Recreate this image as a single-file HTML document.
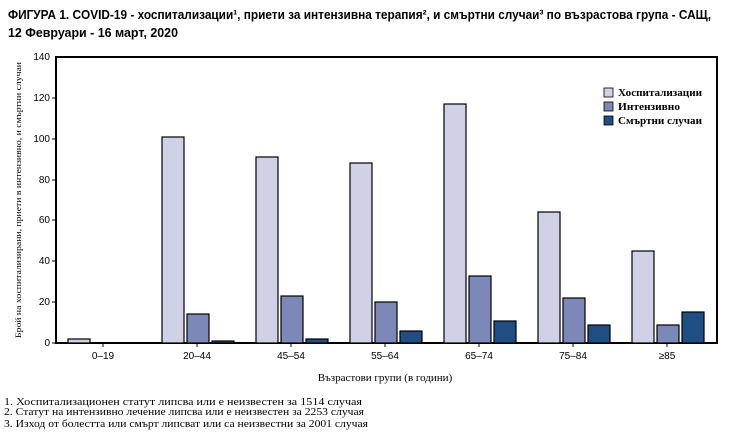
<!DOCTYPE html>
<html><head><meta charset="utf-8"><style>body{margin:0;background:#fff}svg{display:block}</style></head><body>
<svg width="730" height="442" xmlns="http://www.w3.org/2000/svg">
<g font-family="Liberation Sans, sans-serif" font-size="13" fill="#000" font-weight="bold">
<text x="8" y="19" textLength="703" lengthAdjust="spacingAndGlyphs">ФИГУРА  1. COVID-19 - хоспитализации¹, приети за интензивна терапия², и смъртни случаи³ по възрастова група - САЩ,</text>
<text x="8" y="37" textLength="170" lengthAdjust="spacingAndGlyphs">12 Февруари - 16 март, 2020</text>
</g>
<rect x="56" y="57" width="661" height="286" fill="none" stroke="#000" stroke-width="2"/>
<g font-family="Liberation Sans, sans-serif" font-size="10" text-anchor="end">
<text x="50" y="346">0</text><text x="50" y="305">20</text><text x="50" y="264">40</text><text x="50" y="223">60</text><text x="50" y="183">80</text><text x="50" y="142">100</text><text x="50" y="101">120</text><text x="50" y="60">140</text>
</g>
<g stroke="#000" stroke-width="1">
<line x1="52" y1="343" x2="56" y2="343"/><line x1="52" y1="302" x2="56" y2="302"/><line x1="52" y1="261" x2="56" y2="261"/><line x1="52" y1="220" x2="56" y2="220"/><line x1="52" y1="180" x2="56" y2="180"/><line x1="52" y1="139" x2="56" y2="139"/><line x1="52" y1="98" x2="56" y2="98"/>
<line x1="103" y1="343" x2="103" y2="347"/><line x1="197" y1="343" x2="197" y2="347"/><line x1="291" y1="343" x2="291" y2="347"/><line x1="385" y1="343" x2="385" y2="347"/><line x1="479" y1="343" x2="479" y2="347"/><line x1="573" y1="343" x2="573" y2="347"/><line x1="667" y1="343" x2="667" y2="347"/>
</g>
<g font-family="Liberation Sans, sans-serif" font-size="10" text-anchor="middle">
<text x="103" y="359">0–19</text><text x="197" y="359">20–44</text><text x="291" y="359">45–54</text><text x="385" y="359">55–64</text><text x="479" y="359">65–74</text><text x="573" y="359">75–84</text><text x="667" y="359">≥85</text>
</g>
<g stroke="#000" stroke-width="1.2">
<rect x="68" y="339" width="22" height="4" fill="#d0d0e6"/>
<rect x="162" y="137" width="22" height="206" fill="#d0d0e6"/><rect x="187" y="314" width="22" height="29" fill="#7b88b8"/><rect x="212" y="341" width="22" height="2" fill="#1f4e85"/>
<rect x="256" y="157" width="22" height="186" fill="#d0d0e6"/><rect x="281" y="296" width="22" height="47" fill="#7b88b8"/><rect x="306" y="339" width="22" height="4" fill="#1f4e85"/>
<rect x="350" y="163" width="22" height="180" fill="#d0d0e6"/><rect x="375" y="302" width="22" height="41" fill="#7b88b8"/><rect x="400" y="331" width="22" height="12" fill="#1f4e85"/>
<rect x="444" y="104" width="22" height="239" fill="#d0d0e6"/><rect x="469" y="276" width="22" height="67" fill="#7b88b8"/><rect x="494" y="321" width="22" height="22" fill="#1f4e85"/>
<rect x="538" y="212" width="22" height="131" fill="#d0d0e6"/><rect x="563" y="298" width="22" height="45" fill="#7b88b8"/><rect x="588" y="325" width="22" height="18" fill="#1f4e85"/>
<rect x="632" y="251" width="22" height="92" fill="#d0d0e6"/><rect x="657" y="325" width="22" height="18" fill="#7b88b8"/><rect x="682" y="312" width="22" height="31" fill="#1f4e85"/>
</g>
<g stroke="#000" stroke-width="0.8">
<rect x="604" y="88" width="9" height="9" fill="#d0d0e6"/><rect x="604" y="102" width="9" height="9" fill="#7b88b8"/><rect x="604" y="116" width="9" height="9" fill="#1f4e85"/>
</g>
<g font-family="Liberation Serif, serif" font-size="11" font-weight="bold">
<text x="618" y="96" textLength="84" lengthAdjust="spacingAndGlyphs">Хоспитализации</text><text x="618" y="110" textLength="62" lengthAdjust="spacingAndGlyphs">Интензивно</text><text x="618" y="124" textLength="84" lengthAdjust="spacingAndGlyphs">Смъртни случаи</text>
</g>
<text x="385" y="381" font-family="Liberation Serif, serif" font-size="11" text-anchor="middle">Възрастови групи (в години)</text>
<text transform="translate(21,200) rotate(-90)" font-family="Liberation Serif, serif" font-size="8" text-anchor="middle" textLength="276" lengthAdjust="spacingAndGlyphs">Брой на хоспитализирани, приети в интензивно, и смъртни случаи</text>
<g font-family="Liberation Serif, serif" font-size="10.5">
<text x="4" y="405" textLength="358" lengthAdjust="spacingAndGlyphs">1. Хоспитализационен статут липсва или е неизвестен за 1514 случая</text>
<text x="4" y="415" textLength="360" lengthAdjust="spacingAndGlyphs">2. Статут на интензивно лечение липсва или е неизвестен за 2253 случая</text>
<text x="4" y="427" textLength="364" lengthAdjust="spacingAndGlyphs">3. Изход от болестта или смърт липсват или са неизвестни за 2001 случая</text>
</g>
</svg>
</body></html>
